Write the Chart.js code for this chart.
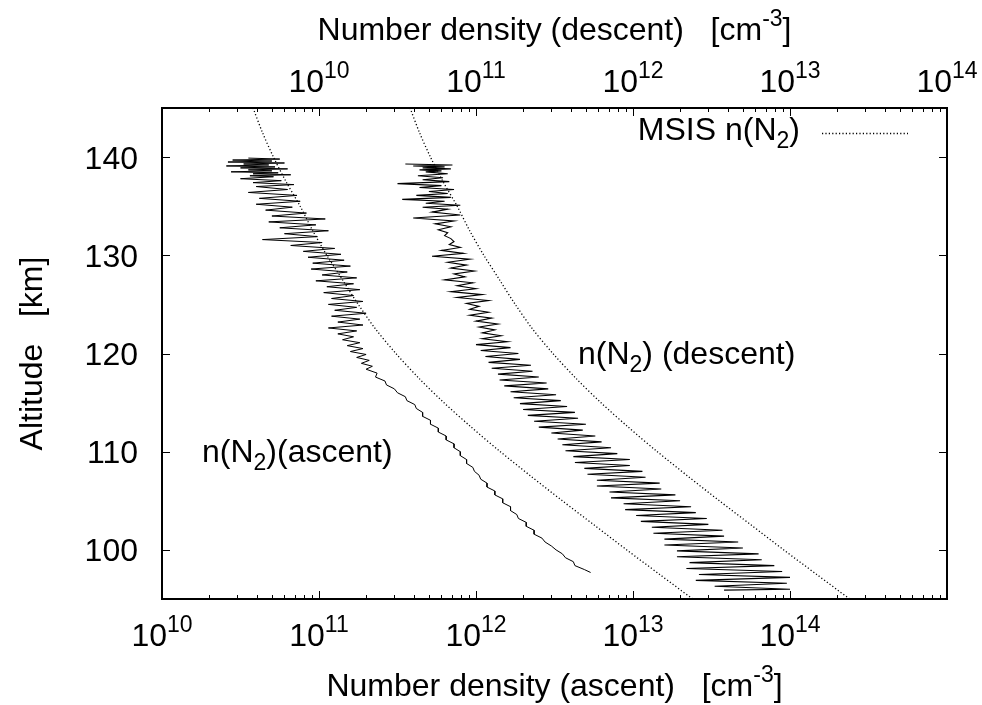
<!DOCTYPE html>
<html>
<head>
<meta charset="utf-8">
<script src="https://cdn.jsdelivr.net/npm/chart.js@4.4.0/dist/chart.umd.min.js"></script>
<style>
html,body{margin:0;padding:0;background:#ffffff;}
#wrap{width:982px;height:705px;position:relative;}
canvas{display:block;}
</style>
</head>
<body>
<div id="wrap"><canvas id="c" width="982" height="705"></canvas></div>
<script>
// ---------------- DATA ----------------
// Altitudes in km, densities as log10(n / cm^-3)

// MSIS model n(N2): the same profile is drawn against the ascent (bottom) and descent (top) axes
const msisAltitude = [145, 142.5, 140, 137.5, 135, 132.5, 130, 127.5, 125, 122.5, 120, 117.5, 115, 112.5, 110, 107.5, 105, 102.5, 100, 97.5, 95];
const msisLogN     = [10.58, 10.64, 10.71, 10.79, 10.88, 10.96, 11.05, 11.15, 11.25, 11.36, 11.49, 11.635, 11.795, 11.97, 12.155, 12.35, 12.55, 12.755, 12.96, 13.17, 13.38];

// Measured n(N2) during ascent (bottom axis)
const ascentAltitude = [
  139.9, 139.8, 139.7, 139.6, 139.5, 139.4, 139.3, 139.2, 139.1, 139.0,
  138.9, 138.8, 138.7, 138.6, 138.5, 138.4, 138.3, 138.2, 138.1, 138.0,
  137.8, 137.6, 137.4, 137.2, 137.0, 136.7, 136.4, 136.1, 135.8, 135.5,
  135.2, 134.9, 134.6, 134.3, 134.0, 133.7, 133.4, 133.1, 132.8, 132.5,
  132.2, 131.9, 131.6, 131.3, 131.0, 130.7, 130.4, 130.1, 129.8, 129.5,
  129.2, 128.9, 128.6, 128.3, 128.0, 127.7, 127.4, 127.1, 126.8, 126.5,
  126.2, 125.9, 125.6, 125.3, 125.0, 124.7, 124.4, 124.1, 123.8, 123.5,
  123.2, 122.9, 122.6, 122.3, 122.0, 121.7, 121.4, 121.1, 120.8, 120.5,
  120.2, 119.9, 119.6, 119.3, 119.0, 118.7, 118.4, 118.0, 117.6, 117.2,
  116.8, 116.4, 116.0, 115.6, 115.2, 114.8, 114.4, 114.0, 113.6, 113.2,
  112.8, 112.4, 112.0, 111.6, 111.2, 110.8, 110.4, 110.0, 109.6, 109.2,
  108.8, 108.4, 108.0, 107.6, 107.2, 106.8, 106.4, 106.0, 105.6, 105.2,
  104.8, 104.4, 104.0, 103.6, 103.2, 102.8, 102.4, 102.0, 101.6, 101.2,
  100.8, 100.4, 100.0, 99.6, 99.2, 98.8, 98.4, 98.0, 97.7
];
const ascentLogN = [
  10.55, 10.75, 10.45, 10.70, 10.42, 10.78, 10.52, 10.68, 10.41, 10.72,
  10.50, 10.80, 10.55, 10.70, 10.44, 10.74, 10.58, 10.82, 10.56, 10.71,
  10.50, 10.76, 10.58, 10.84, 10.60, 10.80, 10.55, 10.86, 10.62, 10.88,
  10.60, 10.83, 10.66, 10.92, 10.70, 11.04, 10.68, 10.98, 10.75, 11.06,
  10.78, 10.99, 10.64, 11.02, 10.82, 11.10, 10.90, 11.14, 10.93, 11.16,
  10.96, 11.20, 10.95, 11.18, 11.02, 11.24, 10.98, 11.22, 11.05, 11.26,
  11.03, 11.22, 11.08, 11.28, 11.06, 11.24, 11.10, 11.30, 11.08, 11.26,
  11.12, 11.28, 11.06, 11.24, 11.12, 11.22, 11.15, 11.26, 11.18, 11.28,
  11.20, 11.30, 11.24, 11.32, 11.27, 11.34, 11.30, 11.37, 11.36, 11.42,
  11.43, 11.48, 11.50, 11.55, 11.56, 11.61, 11.62, 11.66, 11.66, 11.71,
  11.71, 11.76, 11.76, 11.81, 11.81, 11.86, 11.86, 11.90, 11.90, 11.94,
  11.94, 11.98, 11.99, 12.02, 12.03, 12.07, 12.07, 12.12, 12.12, 12.17,
  12.17, 12.22, 12.22, 12.26, 12.27, 12.32, 12.32, 12.37, 12.37, 12.42,
  12.44, 12.48, 12.51, 12.55, 12.57, 12.62, 12.63, 12.69, 12.73
];

// Measured n(N2) during descent (top axis)
const descentAltitude = [
  139.3, 139.2, 139.1, 139.0, 138.9, 138.8, 138.7, 138.6, 138.5, 138.3,
  138.1, 137.9, 137.7, 137.5, 137.3, 137.1, 136.9, 136.7, 136.5, 136.3,
  136.1, 135.9, 135.7, 135.5, 135.3, 135.1, 134.9, 134.7, 134.4, 134.1,
  133.8, 133.5, 133.2, 132.9, 132.6, 132.3, 132.0, 131.7, 131.4, 131.1,
  130.8, 130.5, 130.2, 129.9, 129.6, 129.3, 129.0, 128.7, 128.4, 128.1,
  127.8, 127.5, 127.2, 126.9, 126.6, 126.3, 126.0, 125.7, 125.4, 125.1,
  124.8, 124.5, 124.2, 123.9, 123.6, 123.3, 123.0, 122.7, 122.4, 122.1,
  121.8, 121.5, 121.2, 120.9, 120.6, 120.3, 120.0, 119.7, 119.4, 119.1,
  118.8, 118.5, 118.2, 117.9, 117.6, 117.3, 117.0, 116.7, 116.4, 116.1,
  115.8, 115.5, 115.2, 114.9, 114.6, 114.3, 114.0, 113.7, 113.4, 113.1,
  112.8, 112.5, 112.2, 111.9, 111.6, 111.3, 111.0, 110.7, 110.4, 110.1,
  109.8, 109.5, 109.2, 108.9, 108.6, 108.3, 108.0, 107.7, 107.4, 107.1,
  106.8, 106.5, 106.2, 105.9, 105.6, 105.3, 105.0, 104.7, 104.4, 104.1,
  103.8, 103.5, 103.2, 102.9, 102.6, 102.3, 102.0, 101.7, 101.4, 101.1,
  100.8, 100.5, 100.2, 99.9, 99.6, 99.3, 99.0, 98.7, 98.4, 98.1,
  97.8, 97.5, 97.2, 96.9, 96.6, 96.3, 96.0, 95.9
];
const descentLogN = [
  10.55, 10.85, 10.60, 10.80, 10.66, 10.84, 10.64, 10.78, 10.68, 10.82,
  10.63, 10.79, 10.66, 10.83, 10.50, 10.78, 10.64, 10.86, 10.70, 10.82,
  10.62, 10.84, 10.53, 10.80, 10.68, 10.90, 10.66, 10.82, 10.72, 10.90,
  10.60, 10.86, 10.74, 10.84, 10.76, 10.82, 10.80, 10.84, 10.86, 10.83,
  10.90, 10.78, 10.92, 10.72, 10.96, 10.82, 10.94, 10.84, 10.99, 10.86,
  10.93, 10.80, 10.98, 10.88, 11.00, 10.84, 11.04, 10.88, 11.08, 10.94,
  11.02, 10.96, 11.08, 10.96, 11.10, 11.00, 11.14, 11.02, 11.12, 11.04,
  11.16, 11.04, 11.20, 11.00, 11.22, 11.03, 11.27, 11.06, 11.28, 11.08,
  11.35, 11.10, 11.36, 11.14, 11.40, 11.15, 11.45, 11.18, 11.46, 11.22,
  11.51, 11.24, 11.54, 11.28, 11.58, 11.30, 11.63, 11.33, 11.65, 11.37,
  11.70, 11.40, 11.68, 11.48, 11.76, 11.52, 11.80, 11.55, 11.86, 11.57,
  11.90, 11.62, 11.98, 11.63, 11.98, 11.69, 12.06, 11.71, 12.08, 11.77,
  12.17, 11.77, 12.18, 11.85, 12.27, 11.86, 12.30, 11.94, 12.37, 11.95,
  12.40, 12.02, 12.47, 12.05, 12.48, 12.12, 12.57, 12.13, 12.58, 12.20,
  12.67, 12.20, 12.70, 12.28, 12.80, 12.28, 12.82, 12.36, 12.90, 12.34,
  12.95, 12.42, 13.00, 12.40, 12.98, 12.52, 13.00, 12.58
];

// Axis ranges and tick labels
const ascentAxisRange  = [1e10, 1e15];
const descentAxisRange = [1e9, 1e14];
const altitudeRange    = [95, 145];
const ascentTickExponents  = [10, 11, 12, 13, 14];
const descentTickExponents = [10, 11, 12, 13, 14];
const altitudeTicks = [100, 110, 120, 130, 140];

// ---------------- CHART ----------------
const FONT = '"Liberation Sans", Arial, Helvetica, sans-serif';
const BLACK = '#000000';

function toPoints(alts, logs) {
  return alts.map((h, i) => ({ x: Math.pow(10, logs[i]), y: h }));
}

function richWidth(ctx, parts) {
  let w = 0;
  parts.forEach(p => { ctx.font = p.s + 'px ' + FONT; p.w = ctx.measureText(p.t).width; w += p.w; });
  return w;
}
function drawRich(ctx, parts, x, y, align) {
  const w = richWidth(ctx, parts);
  let sx = align === 'center' ? x - w / 2 : (align === 'right' ? x - w : x);
  ctx.textAlign = 'left';
  ctx.textBaseline = 'alphabetic';
  parts.forEach(p => {
    ctx.font = p.s + 'px ' + FONT;
    ctx.fillText(p.t, sx, y + (p.dy || 0));
    sx += p.w;
  });
}
function powerLabel(e) {
  return [{ t: '10', s: 32 }, { t: String(e), s: 23, dy: -14 }];
}

const gnuplotFrame = {
  id: 'gnuplotFrame',
  afterDatasetsDraw(chart) {
    const ctx = chart.ctx;
    const a = chart.chartArea;
    const sx = chart.scales.x, sx2 = chart.scales.x2, sy = chart.scales.y;
    ctx.save();
    ctx.fillStyle = BLACK;
    ctx.strokeStyle = BLACK;

    // tick marks (inward)
    ctx.lineWidth = 1;
    ctx.beginPath();
    const mult = [1, 2, 3, 4, 5, 6, 7, 8, 9];
    for (let e = 10; e < 15; e++) {
      mult.forEach(m => {
        const v = m * Math.pow(10, e);
        const px = Math.round(sx.getPixelForValue(v)) + 0.5;
        const len = m === 1 ? 8 : 4;
        ctx.moveTo(px, a.bottom); ctx.lineTo(px, a.bottom - len);
      });
    }
    for (let e = 9; e < 14; e++) {
      mult.forEach(m => {
        const v = m * Math.pow(10, e);
        const px = Math.round(sx2.getPixelForValue(v)) + 0.5;
        const len = m === 1 ? 8 : 4;
        ctx.moveTo(px, a.top); ctx.lineTo(px, a.top + len);
      });
    }
    altitudeTicks.forEach(t => {
      const py = Math.round(sy.getPixelForValue(t)) + 0.5;
      ctx.moveTo(a.left, py); ctx.lineTo(a.left + 8, py);
      ctx.moveTo(a.right, py); ctx.lineTo(a.right - 8, py);
    });
    ctx.stroke();

    // border
    ctx.lineWidth = 2;
    ctx.strokeRect(a.left, a.top, a.right - a.left, a.bottom - a.top);

    // tick labels
    ascentTickExponents.forEach(e => {
      drawRich(ctx, powerLabel(e), sx.getPixelForValue(Math.pow(10, e)), 646, 'center');
    });
    descentTickExponents.forEach(e => {
      drawRich(ctx, powerLabel(e), sx2.getPixelForValue(Math.pow(10, e)), 92, 'center');
    });
    ctx.font = '32px ' + FONT;
    ctx.textAlign = 'right';
    ctx.textBaseline = 'alphabetic';
    altitudeTicks.forEach(t => {
      ctx.fillText(String(t), 138, sy.getPixelForValue(t) + 11.5);
    });

    // axis titles
    const cx = (a.left + a.right) / 2;
    drawRich(ctx, [{ t: 'Number density (descent)   [cm', s: 32 }, { t: '-3', s: 23, dy: -14 }, { t: ']', s: 32 }], cx, 40, 'center');
    drawRich(ctx, [{ t: 'Number density (ascent)   [cm', s: 32 }, { t: '-3', s: 23, dy: -14 }, { t: ']', s: 32 }], cx, 696, 'center');
    ctx.save();
    ctx.translate(42, (a.top + a.bottom) / 2);
    ctx.rotate(-Math.PI / 2);
    drawRich(ctx, [{ t: 'Altitude   [km]', s: 32 }], 0, 0, 'center');
    ctx.restore();

    // key
    drawRich(ctx, [{ t: 'MSIS n(N', s: 32 }, { t: '2', s: 23, dy: 8 }, { t: ')', s: 32 }], 800, 140, 'right');
    ctx.lineWidth = 1.3;
    ctx.setLineDash([1.2, 2.2]);
    ctx.beginPath();
    ctx.moveTo(822, 133.5); ctx.lineTo(908, 133.5);
    ctx.stroke();
    ctx.setLineDash([]);

    // curve labels
    drawRich(ctx, [{ t: 'n(N', s: 32 }, { t: '2', s: 23, dy: 8 }, { t: ')(ascent)', s: 32 }], 202, 462, 'left');
    drawRich(ctx, [{ t: 'n(N', s: 32 }, { t: '2', s: 23, dy: 8 }, { t: ') (descent)', s: 32 }], 578, 364, 'left');

    ctx.restore();
  }
};

const ctx = document.getElementById('c').getContext('2d');
new Chart(ctx, {
  type: 'scatter',
  data: {
    datasets: [
      {
        label: 'MSIS n(N2)',
        data: toPoints(msisAltitude, msisLogN),
        xAxisID: 'x', yAxisID: 'y',
        showLine: true, borderColor: BLACK, borderWidth: 1.3, borderDash: [1.2, 2.2],
        pointRadius: 0, tension: 0.3, fill: false
      },
      {
        label: 'MSIS n(N2) (descent axis)',
        data: toPoints(msisAltitude, msisLogN),
        xAxisID: 'x2', yAxisID: 'y',
        showLine: true, borderColor: BLACK, borderWidth: 1.3, borderDash: [1.2, 2.2],
        pointRadius: 0, tension: 0.3, fill: false
      },
      {
        label: 'n(N2)(ascent)',
        data: toPoints(ascentAltitude, ascentLogN),
        xAxisID: 'x', yAxisID: 'y',
        showLine: true, borderColor: BLACK, borderWidth: 1, pointRadius: 0, tension: 0, fill: false
      },
      {
        label: 'n(N2) (descent)',
        data: toPoints(descentAltitude, descentLogN),
        xAxisID: 'x2', yAxisID: 'y',
        showLine: true, borderColor: BLACK, borderWidth: 1.1, pointRadius: 0, tension: 0, fill: false
      }
    ]
  },
  options: {
    responsive: false,
    animation: false,
    devicePixelRatio: 1,
    layout: { padding: { left: 162, top: 108, right: 35, bottom: 106 } },
    plugins: { legend: { display: false }, tooltip: { enabled: false } },
    scales: {
      x:  { type: 'logarithmic', position: 'bottom', min: ascentAxisRange[0], max: ascentAxisRange[1], bounds: 'data', display: false },
      x2: { type: 'logarithmic', position: 'top', min: descentAxisRange[0], max: descentAxisRange[1], bounds: 'data', display: false },
      y:  { type: 'linear', min: altitudeRange[0], max: altitudeRange[1], bounds: 'data', display: false }
    }
  },
  plugins: [gnuplotFrame]
});
</script>
</body>
</html>
